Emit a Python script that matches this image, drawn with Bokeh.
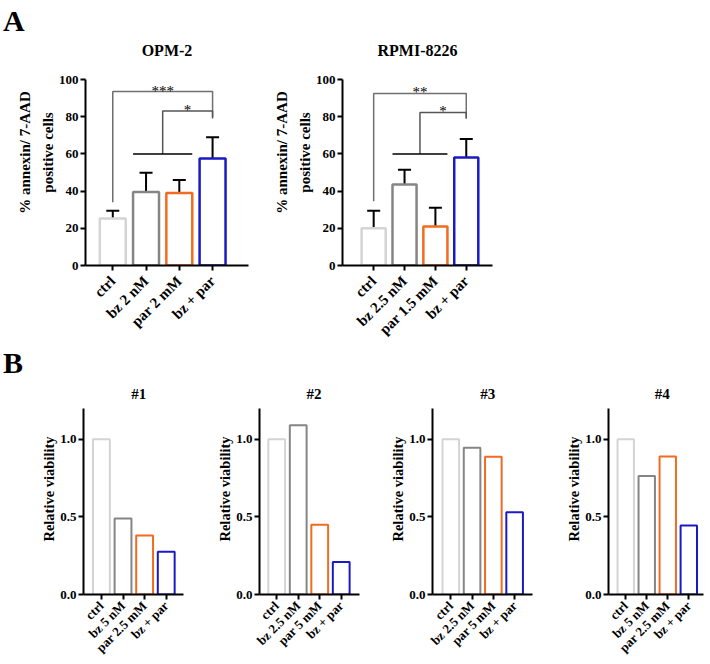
import math
from bokeh.plotting import figure
from bokeh.models import (ColumnDataSource, Range1d, FixedTicker, Whisker, TeeHead,
                          Div, PrintfTickFormatter)
from bokeh.layouts import column, row
from bokeh.core.properties import value
from bokeh.embed import file_html
from bokeh.resources import INLINE

# ---------------- data ----------------
colors = ["#d4d4d4", "#858585", "#f26b21", "#1a1ac4"]

opm_cats = ["ctrl", "bz 2 nM", "par 2 mM", "bz + par"]
opm_mean = [25.3, 39.5, 39.0, 57.5]
opm_err = [4.2, 10.3, 7.0, 11.5]

rpmi_cats = ["ctrl", "bz 2.5 nM", "par 1.5 mM", "bz + par"]
rpmi_mean = [20.0, 43.5, 21.0, 58.0]
rpmi_err = [9.5, 8.0, 10.0, 10.0]

# significance brackets: (level, left foot, right foot, label)
opm_sig_all = [93.5, 34.0, 80.0, "***"]
opm_sig_pair = [83.0, 60.0, 79.0, "*"]
rpmi_sig_all = [92.5, 34.5, 79.0, "**"]
rpmi_sig_pair = [82.3, 60.0, 79.0, "*"]
group_line_level = 60.0

b1_cats = ["ctrl", "bz 5 nM", "par 2.5 mM", "bz + par"]
b1_vals = [1.0, 0.49, 0.38, 0.275]
b2_cats = ["ctrl", "bz 2.5 nM", "par 5 mM", "bz + par"]
b2_vals = [1.0, 1.09, 0.45, 0.21]
b3_cats = ["ctrl", "bz 2.5 nM", "par 5 mM", "bz + par"]
b3_vals = [1.0, 0.945, 0.887, 0.53]
b4_cats = ["ctrl", "bz 5 nM", "par 2.5 mM", "bz + par"]
b4_vals = [1.0, 0.763, 0.89, 0.445]

FONT = "Liberation Serif"
BAR_W = 0.78

# ---------------- layout constants (pixels) ----------------
DIV_A_H = 34
ROW_A_H = 314
A_MBT = 5
A_MBB = 83
A_FRAME_H = ROW_A_H - A_MBT - A_MBB          # frame height in px
A_AXIS_PX = 186                               # px spanned by 0..100
A_YMAX = 100 * A_FRAME_H / A_AXIS_PX          # range top so that 100 sits at the axis top
A_TITLE_Y = 100 + 29 * 100 / A_AXIS_PX        # title centre, 29 px above the axis top

DIV_B_H = 35
ROW_B_H = 280
B_MBB = 67
B_FRAME_H = ROW_B_H - B_MBB
B_AXIS_PX = 188                               # px spanned by 0..1.2
B_YMAX = 1.2 * B_FRAME_H / B_AXIS_PX
B_TITLE_Y = 1.2 + 14 * 1.2 / B_AXIS_PX


def style_axes(p, cats, ylabel, tick_fs, xtick_fs, ylab_fs, xstandoff):
    for ax in (p.xaxis[0], p.yaxis[0]):
        ax.axis_line_width = 2
        ax.axis_line_color = "black"
        ax.major_tick_line_width = 2
        ax.major_tick_line_color = "black"
        ax.major_tick_out = 5
        ax.major_tick_in = 0
        ax.minor_tick_out = 0
        ax.minor_tick_in = 0
        ax.major_label_text_font = FONT
        ax.major_label_text_font_style = "bold"
        ax.major_label_text_color = "black"
        ax.major_label_standoff = 2
    p.xaxis.major_label_standoff = xstandoff
    p.xaxis.ticker = FixedTicker(ticks=list(range(len(cats))))
    p.xaxis.major_label_overrides = {i: c for i, c in enumerate(cats)}
    p.xaxis.major_label_orientation = math.pi / 4
    p.xaxis.major_label_text_font_size = xtick_fs
    p.yaxis.major_label_text_font_size = tick_fs
    p.yaxis.axis_label = ylabel
    p.yaxis.axis_label_text_font = FONT
    p.yaxis.axis_label_text_font_style = "bold"
    p.yaxis.axis_label_text_font_size = ylab_fs
    p.yaxis.axis_label_text_color = "black"
    p.yaxis.axis_label_text_line_height = 1.45
    p.yaxis.axis_label_standoff = 0
    p.xgrid.visible = False
    p.ygrid.visible = False
    p.outline_line_color = None


def panel_a(title, cats, mean, err, sig_all, sig_pair, x0, x1, width, mbl, mbr):
    p = figure(width=width, height=ROW_A_H, x_range=Range1d(x0, x1),
               y_range=Range1d(0, A_YMAX),
               output_backend="svg", toolbar_location=None,
               min_border_left=mbl, min_border_right=mbr, min_border_top=A_MBT,
               min_border_bottom=A_MBB)
    style_axes(p, cats, "% annexin/ 7-AAD\npositive cells", "13px", "15px", "15px", 8)
    p.yaxis.ticker = FixedTicker(ticks=[0, 20, 40, 60, 80, 100])
    p.yaxis.bounds = (0, 100)
    # panel title drawn inside the (extended) frame
    p.text([(x0 + x1) / 2], [A_TITLE_Y], text=[title], text_align="center",
           text_baseline="middle", text_font=value(FONT), text_font_style="bold",
           text_font_size="16px", text_color="black")
    xs = list(range(len(cats)))
    src = ColumnDataSource(dict(x=xs, mean=mean, upper=[m + e for m, e in zip(mean, err)],
                                color=colors))
    p.vbar(x="x", top="mean", width=BAR_W, source=src, fill_color="white",
           line_color="color", line_width=2.5)
    p.add_layout(Whisker(source=src, base="x", lower="mean", upper="upper",
                         line_width=2, line_color="black", lower_head=None,
                         upper_head=TeeHead(size=13, line_width=2, line_color="black")))
    last = xs[-1]
    # bracket ctrl -> combination
    lvl, lf, rf, lab = sig_all
    p.line([xs[0], xs[0], last, last], [lf, lvl, lvl, rf], line_color="#707070", line_width=1.5)
    p.text([(xs[0] + last) / 2], [lvl], text=[lab], text_align="center",
           text_baseline="alphabetic", y_offset=-1, text_font=value(FONT),
           text_font_size="15px", text_color="black")
    # bracket single agents -> combination
    lvl2, lf2, rf2, lab2 = sig_pair
    mid_single = (xs[1] + xs[2]) / 2
    p.line([mid_single, mid_single, last, last], [lf2, lvl2, lvl2, rf2],
           line_color="#555555", line_width=1.5)
    p.text([(mid_single + last) / 2], [lvl2], text=[lab2], text_align="center",
           text_baseline="alphabetic", y_offset=-1, text_font=value(FONT),
           text_font_size="15px", text_color="black")
    # group line over single agents
    p.line([xs[1] - BAR_W / 2, xs[2] + BAR_W / 2], [group_line_level, group_line_level],
           line_color="black", line_width=1.5)
    return p


def panel_b(title, cats, vals, x0, x1, width, mbl, mbr):
    p = figure(width=width, height=ROW_B_H, x_range=Range1d(x0, x1),
               y_range=Range1d(0, B_YMAX),
               output_backend="svg", toolbar_location=None,
               min_border_left=mbl, min_border_right=mbr, min_border_top=0,
               min_border_bottom=B_MBB)
    style_axes(p, cats, "Relative viability", "13px", "13px", "14.5px", 4)
    p.yaxis.ticker = FixedTicker(ticks=[0, 0.5, 1.0])
    p.yaxis.bounds = (0, 1.2)
    p.yaxis.formatter = PrintfTickFormatter(format="%.1f")
    xs = list(range(len(cats)))
    p.text([(xs[0] + xs[-1]) / 2], [B_TITLE_Y], text=[title], text_align="center",
           text_baseline="middle", x_offset=5, text_font=value(FONT),
           text_font_style="bold", text_font_size="15px", text_color="black")
    src = ColumnDataSource(dict(x=xs, v=vals, color=colors))
    p.vbar(x="x", top="v", width=BAR_W, source=src, fill_color="white",
           line_color="color", line_width=2)
    return p


a1 = panel_a("OPM-2", opm_cats, opm_mean, opm_err, opm_sig_all, opm_sig_pair,
             -0.82, 4.08, 270, 85, 22)
a2 = panel_a("RPMI-8226", rpmi_cats, rpmi_mean, rpmi_err, rpmi_sig_all, rpmi_sig_pair,
             -1.01, 3.85, 250, 62, 28)

b1 = panel_b("#1", b1_cats, b1_vals, -0.83, 3.8, 190, 83, 7)
b2 = panel_b("#2", b2_cats, b2_vals, -0.80, 3.85, 175, 69, 6)
b3 = panel_b("#3", b3_cats, b3_vals, -0.86, 3.84, 175, 67, 8)
b4 = panel_b("#4", b4_cats, b4_vals, -0.82, 3.7, 166, 68, 3)

letter_a_style = {"font-family": FONT, "font-weight": "bold", "font-size": "30px",
                  "color": "black", "padding-left": "3px"}
letter_b_style = dict(letter_a_style, **{"line-height": "30px"})
div_a = Div(text="A", width=60, height=DIV_A_H, margin=0, styles=letter_a_style)
div_b = Div(text="B", width=60, height=DIV_B_H, margin=0, styles=letter_b_style)

layout = column(div_a, row(a1, a2), div_b, row(b1, b2, b3, b4))

open("out.html", "w").write(file_html(layout, INLINE))
